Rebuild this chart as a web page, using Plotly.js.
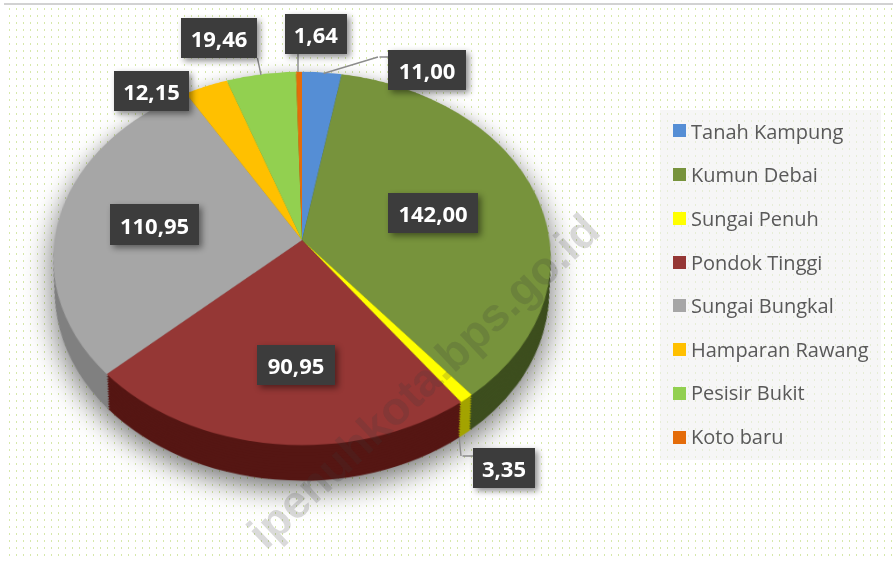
<!DOCTYPE html>
<html>
<head>
<meta charset="utf-8">
<script src="https://cdn.plot.ly/plotly-3.0.1.min.js"></script>
<style>
html,body{margin:0;padding:0;background:#fff;width:893px;height:561px;overflow:hidden}
#frame{position:absolute;left:0;top:0;width:893px;height:561px;overflow:hidden}
#dots{position:absolute;left:9px;top:8px;right:0;bottom:0;
background-image:url("data:image/svg+xml;utf8,<svg xmlns='http://www.w3.org/2000/svg' width='7' height='7'><rect width='1' height='2' fill='%23d6e8aa'/></svg>");background-size:7px 7px}
#rule{position:absolute;left:4px;right:0;top:3px;height:2px;background:#d2d2d2}
#chart{position:absolute;left:0;top:0;width:893px;height:720px}
</style>
</head>
<body>
<div id="frame">
<div id="dots"></div>
<div id="rule"></div>
<div id="chart"></div>
</div>
<script>
const categories = ["Tanah Kampung","Kumun Debai","Sungai Penuh","Pondok Tinggi","Sungai Bungkal","Hamparan Rawang","Pesisir Bukit","Koto baru"];
const values = [11.00,142.00,3.35,90.95,110.95,12.15,19.46,1.64];
const topColors = ["#558ed5","#77933c","#ffff00","#953735","#a6a6a6","#ffc000","#92d050","#e46c0a"];
const wallColors = ["#2f5a94","#3d4e1e","#a3a300","#551613","#808080","#a67c00","#5f8a2f","#8a4206"];

const W = 893, H = 720;
const R = 247.5, CX = 302, CY = 300, APEX_Y = 240, DEPTH = 44, SHRINK = 6, LAYERS = 14;
const xp = px => px / W, yp = py => 1 - py / H;

function pieDomain(t){
  const r = R - SHRINK*t, shift = DEPTH*t;
  return {x:[xp(CX-r),xp(CX+r)], y:[yp(CY+shift+r),yp(CY+shift-r)]};
}
const traces = [];
for(let i=LAYERS;i>=0;i--){
  traces.push({type:"pie",labels:categories,values:values,sort:false,direction:"clockwise",rotation:0,
    textinfo:"none",hoverinfo:"skip",showlegend:false,
    marker:{colors:i===0?topColors:wallColors,line:{width:0}},
    domain:pieDomain(i/LAYERS)});
}

const fmt = v => v.toFixed(2).replace(".",",");
const ann = [];
const shadowIdx = [];
function box(l,t,w,h,bg,text,font){
  return {xref:"paper",yref:"paper",x:xp(l),y:yp(t),xanchor:"left",yanchor:"top",width:w,height:h,
    showarrow:false,bgcolor:bg,text:text||" ",font:font||{size:10},borderpad:0,borderwidth:0};
}
function leader(x0,y0,x1,y1){
  return {xref:"paper",yref:"paper",x:xp(x1),y:yp(y1),ax:x0-x1,ay:y0-y1,axref:"pixel",ayref:"pixel",
    text:" ",font:{size:1},showarrow:true,arrowhead:0,arrowwidth:1.4,arrowcolor:"#8c8c8c",standoff:0,startstandoff:0};
}
// watermark
ann.push({xref:"paper",yref:"paper",x:xp(423),y:yp(381),xanchor:"center",yanchor:"middle",showarrow:false,
  text:"<b>ipenuhkota.bps.go.id</b>",textangle:-43.3,font:{family:"Liberation Sans",size:46,color:"rgba(60,60,60,0.19)"}});
// legend panel
ann.push(box(660,110,221,350,"rgba(240,240,240,0.62)"));
const legendY = [131,174.5,218.5,262,305.5,349.5,393,437];
categories.forEach((c,i)=>{
  ann.push(box(673,legendY[i]-6.5,13,13,topColors[i]));
  ann.push({xref:"paper",yref:"paper",x:xp(689),y:yp(legendY[i]),xanchor:"left",yanchor:"middle",showarrow:false,
    text:c,font:{family:"Open Sans",size:20,color:"#595959"}});
});
// leader lines
ann.push(leader(257,56,261,75));
ann.push(leader(298,52,298,72));
ann.push(leader(322,74,378,57));
ann.push(leader(378,57,390,57));
ann.push(leader(459,436,461,456));
ann.push(leader(461,456,475,456));
// data labels, same order as categories
const labelBoxes = [[388,50,78,40],[388,193,90,40],[473,448,62,40],[257,345,78,40],[110,204,89,41],[114,71,75,40],[181,18,76,40],[285,14,62,40]];
const labelFont = {family:"Open Sans",size:22,color:"#ffffff"};
values.forEach((v,i)=>{
  const b = labelBoxes[i];
  shadowIdx.push(ann.length);
  ann.push(box(b[0],b[1],b[2],b[3],"#3c3c3c","<b>"+fmt(v)+"</b>",labelFont));
});

const layout = {width:W,height:H,margin:{l:0,r:0,t:0,b:0},paper_bgcolor:"rgba(0,0,0,0)",plot_bgcolor:"rgba(0,0,0,0)",
  showlegend:false,annotations:ann};

Plotly.newPlot("chart",traces,layout,{displayModeBar:false,staticPlot:true}).then(gd=>{
  const paper = gd.querySelector("svg.main-svg");
  paper.style.background = "transparent";
  paper.style.transformOrigin = CX+"px "+CY+"px";
  paper.style.transform = "translateY("+(APEX_Y-CY)+"px) perspective(1660px) rotateX(41.7deg)";
  paper.style.filter = "drop-shadow(0 10px 14px rgba(0,0,0,0.55))";
  shadowIdx.forEach(i=>{
    const g = gd.querySelector('.annotation[data-index="'+i+'"]');
    if(g) g.style.filter = "drop-shadow(3px 3px 3px rgba(0,0,0,0.45))";
  });
});
</script>
</body>
</html>
